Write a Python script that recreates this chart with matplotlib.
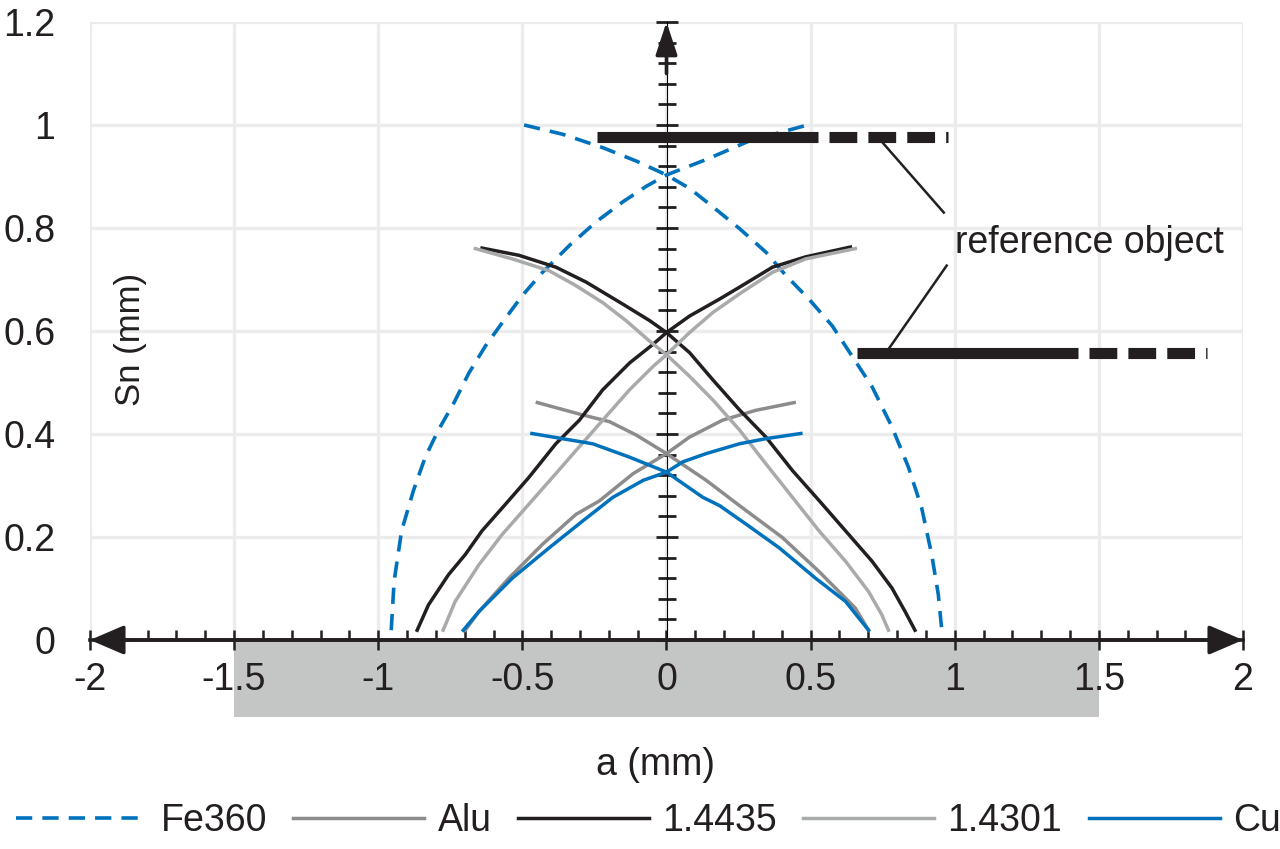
import matplotlib
matplotlib.use('Agg')
import matplotlib.pyplot as plt
import numpy as np

# Fe360 (dashed blue), two branches
fe_a_x = [-0.494, -0.36, -0.221, -0.105, 0.0, 0.080, 0.161, 0.253, 0.345, 0.414, 0.494, 0.575, 0.644,
          0.713, 0.782, 0.839, 0.885, 0.920, 0.943, 0.955]
fe_a_y = [1.0, 0.982, 0.956, 0.930, 0.903, 0.877, 0.841, 0.799, 0.753, 0.708, 0.662, 0.610, 0.551,
          0.492, 0.414, 0.336, 0.257, 0.166, 0.088, 0.019]
fe_b_x = [-0.955, -0.945, -0.919, -0.878, -0.837, -0.791, -0.738, -0.686, -0.628, -0.570, -0.5, -0.430,
          -0.337, -0.244, -0.151, -0.070, 0.0, 0.138, 0.287, 0.489]
fe_b_y = [0.019, 0.114, 0.212, 0.290, 0.355, 0.408, 0.460, 0.518, 0.571, 0.616, 0.669, 0.714,
          0.766, 0.812, 0.851, 0.881, 0.903, 0.933, 0.969, 1.0]

# Alu
alu_a_x = [-0.448, -0.291, -0.198, -0.105, 0.0, 0.138, 0.253, 0.402, 0.529, 0.655, 0.701]
alu_a_y = [0.461, 0.437, 0.424, 0.398, 0.362, 0.310, 0.261, 0.199, 0.133, 0.062, 0.019]
alu_b_x = [-0.698, -0.651, -0.547, -0.430, -0.314, -0.233, -0.116, 0.0, 0.080, 0.195, 0.310, 0.443]
alu_b_y = [0.019, 0.055, 0.120, 0.186, 0.244, 0.270, 0.323, 0.362, 0.394, 0.427, 0.446, 0.461]

# 1.4435
s35_a_x = [-0.640, -0.512, -0.384, -0.279, -0.151, -0.058, 0.0, 0.080, 0.161, 0.253, 0.345, 0.437,
           0.529, 0.621, 0.713, 0.782, 0.828, 0.862]
s35_a_y = [0.761, 0.747, 0.724, 0.695, 0.652, 0.620, 0.597, 0.558, 0.505, 0.447, 0.394, 0.329,
           0.271, 0.212, 0.153, 0.101, 0.055, 0.019]
s35_b_x = [-0.865, -0.826, -0.756, -0.698, -0.640, -0.558, -0.477, -0.384, -0.302, -0.221, -0.128,
           -0.047, 0.0, 0.080, 0.184, 0.253, 0.368, 0.483, 0.638]
s35_b_y = [0.019, 0.068, 0.127, 0.166, 0.212, 0.264, 0.316, 0.381, 0.427, 0.486, 0.538,
           0.574, 0.597, 0.629, 0.662, 0.685, 0.724, 0.744, 0.763]

# 1.4301
s01_a_x = [-0.663, -0.535, -0.407, -0.314, -0.221, -0.140, -0.058, 0.0, 0.080, 0.161, 0.253, 0.345,
           0.437, 0.529, 0.621, 0.701, 0.747, 0.770]
s01_a_y = [0.760, 0.740, 0.717, 0.688, 0.655, 0.620, 0.580, 0.554, 0.512, 0.466, 0.408, 0.342,
           0.277, 0.212, 0.153, 0.094, 0.049, 0.019]
s01_b_x = [-0.775, -0.733, -0.651, -0.570, -0.477, -0.384, -0.314, -0.221, -0.128, -0.047, 0.0,
           0.080, 0.161, 0.253, 0.368, 0.483, 0.655]
s01_b_y = [0.019, 0.075, 0.146, 0.205, 0.264, 0.323, 0.368, 0.427, 0.486, 0.531, 0.554,
           0.597, 0.636, 0.672, 0.714, 0.740, 0.760]

# Cu
cu_a_x = [-0.467, -0.256, -0.128, 0.0, 0.126, 0.184, 0.276, 0.391, 0.517, 0.621, 0.701]
cu_a_y = [0.401, 0.381, 0.355, 0.326, 0.277, 0.261, 0.225, 0.179, 0.120, 0.075, 0.019]
cu_b_x = [-0.705, -0.651, -0.535, -0.407, -0.291, -0.186, -0.081, 0.0, 0.057, 0.138, 0.253, 0.345, 0.466]
cu_b_y = [0.019, 0.055, 0.120, 0.179, 0.231, 0.277, 0.310, 0.326, 0.346, 0.362, 0.381, 0.391, 0.401]

legend_labels = ['Fe360', 'Alu', '1.4435', '1.4301', 'Cu']

# reference objects: solid part, dashed part, height
ref1_solid = [-0.24, 0.526]
ref1_dash = [0.564, 0.976]
ref1_y = 0.977
ref2_solid = [0.66, 1.426]
ref2_dash = [1.465, 1.875]
ref2_y = 0.557
leader1 = ([0.74, 0.962], [0.972, 0.83])
leader2 = ([0.768, 0.972], [0.563, 0.727])

blue = '#0072bc'
black = '#231f20'
alu_c = '#8c8c8c'
lgrey = '#a9aaac'

plt.rcParams['font.family'] = ['Liberation Sans', 'DejaVu Sans']
plt.rcParams['axes.unicode_minus'] = False

fig = plt.figure(figsize=(12.8, 8.49), dpi=100)
ax = fig.add_axes([90 / 1280, 1 - 640 / 849, 1153 / 1280, 618 / 849])
ax.set_xlim(-2, 2)
ax.set_ylim(0, 1.2)
ax.set_axisbelow(True)

for s in ['top', 'right', 'left']:
    ax.spines[s].set_visible(False)
ax.spines['bottom'].set_linewidth(2.6)
ax.spines['bottom'].set_color(black)

ax.set_xticks(np.arange(-2, 2.01, 0.5))
ax.set_xticks(np.arange(-2, 2.01, 0.1), minor=True)
ax.set_yticks(np.arange(0, 1.21, 0.2))
fmt = matplotlib.ticker.FuncFormatter(lambda v, p: '%g' % round(v, 2))
ax.xaxis.set_major_formatter(fmt)
ax.yaxis.set_major_formatter(fmt)
ax.tick_params(axis='x', which='major', direction='inout', length=15, width=1.8,
               color=black, labelsize=27, pad=8, labelcolor=black)
ax.tick_params(axis='x', which='minor', direction='in', length=7.5, width=1.8, color=black)
ax.tick_params(axis='y', length=0, labelsize=27, pad=25, labelcolor=black)
ax.grid(True, color='#ececec', linewidth=2.4)

# gray band under the x axis
ax.add_patch(matplotlib.patches.Rectangle((-1.5, -0.15), 3.0, 0.15, facecolor='#c4c6c6',
                                          edgecolor='none', clip_on=False, zorder=0.2))

# central y axis
secax = ax.secondary_yaxis(0.5)
secax.set_zorder(1)
secax.spines['left'].set_linewidth(2.6)
secax.spines['left'].set_color(black)
secax.set_yticks(np.arange(0, 1.21, 0.2))
secax.set_yticks(np.arange(0, 1.201, 0.04), minor=True)
secax.yaxis.set_major_formatter(matplotlib.ticker.NullFormatter())
secax.yaxis.set_minor_formatter(matplotlib.ticker.NullFormatter())
secax.tick_params(which='major', direction='inout', length=16.5, width=2, color=black,
                  labelleft=False, labelright=False)
secax.tick_params(which='minor', direction='inout', length=12.5, width=2, color=black,
                  labelleft=False, labelright=False)

ax.annotate('', xy=(0, 1.2), xytext=(0, 1.1),
            arrowprops=dict(arrowstyle='-|>,head_length=1.0,head_width=0.33', mutation_scale=20,
                            color=black, lw=2.6, shrinkA=0, shrinkB=0, clip_on=False))
ax.annotate('', xy=(2, 0), xytext=(-2, 0),
            arrowprops=dict(arrowstyle='<|-|>,head_length=1.05,head_width=0.45', mutation_scale=20,
                            color=black, lw=2.6, shrinkA=0, shrinkB=0, clip_on=False), zorder=3)

lw = 2.5
l1, = ax.plot(fe_a_x, fe_a_y, color=blue, lw=2.6, dashes=(4.5, 2.8), zorder=2)
ax.plot(fe_b_x, fe_b_y, color=blue, lw=2.6, dashes=(4.5, 2.8), zorder=2)
l2, = ax.plot(alu_a_x, alu_a_y, color=alu_c, lw=lw, zorder=2)
ax.plot(alu_b_x, alu_b_y, color=alu_c, lw=lw, zorder=2)
l3, = ax.plot(s35_a_x, s35_a_y, color=black, lw=lw, zorder=2)
ax.plot(s35_b_x, s35_b_y, color=black, lw=lw, zorder=2)
l4, = ax.plot(s01_a_x, s01_a_y, color=lgrey, lw=lw, zorder=2)
ax.plot(s01_b_x, s01_b_y, color=lgrey, lw=lw, zorder=2)
l5, = ax.plot(cu_a_x, cu_a_y, color=blue, lw=lw, zorder=2)
ax.plot(cu_b_x, cu_b_y, color=blue, lw=lw, zorder=2)

# reference objects
for solid, dash, yy in [(ref1_solid, ref1_dash, ref1_y), (ref2_solid, ref2_dash, ref2_y)]:
    ax.plot(solid, [yy, yy], color=black, lw=8, solid_capstyle='butt', zorder=4, clip_on=False)
    ax.plot(dash, [yy, yy], color=black, lw=8, dashes=(2.5, 1.0), dash_capstyle='butt', zorder=4, clip_on=False)
for lx, ly in [leader1, leader2]:
    ax.plot(lx, ly, color=black, lw=1.8, zorder=4)
ax.text(1.0, 0.77, 'reference object', fontsize=27, color=black, ha='left', va='center')

ax.text(-1.858, 0.583, 'Sn (mm)', fontsize=25, rotation=90, ha='center', va='center', color=black)
fig.text(655 / 1280, 1 - 765 / 849, 'a (mm)', fontsize=27, ha='center', va='center', color=black)

fig.legend([l1, l2, l3, l4, l5], legend_labels, loc='center left', bbox_to_anchor=(16 / 1280, 1 - 821 / 849),
           ncol=5, frameon=False, fontsize=27, handlelength=3.5, handletextpad=0.35,
           columnspacing=0.7, borderpad=0, borderaxespad=0, labelcolor=black)

fig.savefig('out.png', dpi=100)
